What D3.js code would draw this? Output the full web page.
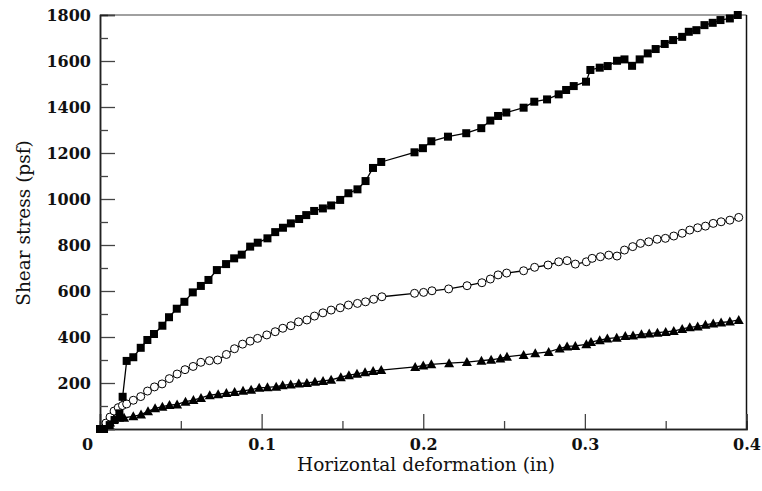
<!DOCTYPE html>
<html>
<head>
<meta charset="utf-8">
<script src="https://cdn.jsdelivr.net/npm/d3@7"></script>
<style>
  html, body { margin: 0; padding: 0; background: #fff; }
  svg { display: block; }
  .tick text { font-family: "DejaVu Serif", serif; font-weight: bold; font-size: 16px; fill: #111; }
  .title { font-family: "DejaVu Serif", serif; font-size: 18.5px; fill: #111; }
</style>
</head>
<body>
<svg id="chart" width="762" height="491"></svg>
<script>
// ---- data ----
const squareX = [0.000, 0.0025, 0.006, 0.009, 0.012, 0.014, 0.0165, 0.0206, 0.0252, 0.0293, 0.0334, 0.0386, 0.0427, 0.0475, 0.0522, 0.0574, 0.0624, 0.0671, 0.0723, 0.078, 0.083, 0.0877, 0.0929, 0.0976, 0.1036, 0.1084, 0.1132, 0.1181, 0.1232, 0.1276, 0.1325, 0.1379, 0.143, 0.1486, 0.1537, 0.1593, 0.1643, 0.1689, 0.174, 0.1946, 0.1998, 0.205, 0.2153, 0.2266, 0.2359, 0.2415, 0.2463, 0.2514, 0.2621, 0.2687, 0.2766, 0.2838, 0.2884, 0.2931, 0.3007, 0.3034, 0.3092, 0.3141, 0.3199, 0.3245, 0.3292, 0.3339, 0.3389, 0.3438, 0.3494, 0.3546, 0.3602, 0.3643, 0.369, 0.374, 0.3791, 0.3839, 0.3897, 0.3946];
const squareY = [0, 0, 17, 39, 68, 140, 296, 312, 353, 387, 413, 449, 486, 523, 553, 594, 622, 648, 691, 717, 742, 758, 793, 810, 829, 856, 875, 894, 913, 930, 948, 959, 972, 996, 1025, 1042, 1078, 1135, 1161, 1203, 1221, 1251, 1271, 1286, 1308, 1341, 1361, 1376, 1397, 1423, 1433, 1455, 1474, 1491, 1510, 1561, 1571, 1578, 1601, 1607, 1579, 1607, 1633, 1652, 1674, 1691, 1705, 1727, 1734, 1756, 1766, 1778, 1785, 1800];

const circleX = [0.0037, 0.0062, 0.0087, 0.0113, 0.0139, 0.0165, 0.0206, 0.0252, 0.0294, 0.0337, 0.0384, 0.0429, 0.0477, 0.0526, 0.0576, 0.0624, 0.0677, 0.0728, 0.0782, 0.0832, 0.0882, 0.0929, 0.0975, 0.1032, 0.1084, 0.1131, 0.1181, 0.1228, 0.128, 0.1327, 0.1379, 0.143, 0.1486, 0.1537, 0.1593, 0.1643, 0.1693, 0.1744, 0.1946, 0.2002, 0.2054, 0.2157, 0.2271, 0.2363, 0.2415, 0.2463, 0.2516, 0.2621, 0.2689, 0.2772, 0.2838, 0.289, 0.2941, 0.3009, 0.3045, 0.3096, 0.3148, 0.3199, 0.3245, 0.3296, 0.3344, 0.3395, 0.3447, 0.3498, 0.355, 0.3602, 0.3649, 0.3698, 0.3746, 0.3794, 0.3843, 0.3897, 0.3952];
const circleY = [26, 52, 78, 93, 102, 109, 125, 141, 165, 183, 196, 219, 239, 258, 272, 290, 297, 300, 324, 349, 369, 382, 394, 409, 423, 438, 449, 466, 474, 491, 505, 517, 527, 539, 546, 553, 564, 575, 590, 594, 601, 609, 623, 636, 652, 670, 678, 688, 703, 713, 727, 732, 717, 727, 742, 749, 756, 752, 778, 793, 807, 814, 825, 829, 839, 851, 865, 875, 882, 894, 901, 908, 920];

const triangleX = [0.0031, 0.0062, 0.0087, 0.0118, 0.0149, 0.0206, 0.0254, 0.0297, 0.0341, 0.0386, 0.043, 0.0477, 0.0529, 0.0578, 0.0625, 0.0679, 0.0731, 0.0782, 0.0833, 0.0885, 0.0935, 0.0985, 0.1036, 0.109, 0.113, 0.118, 0.123, 0.128, 0.133, 0.138, 0.143, 0.149, 0.154, 0.159, 0.164, 0.169, 0.174, 0.195, 0.2, 0.205, 0.216, 0.227, 0.236, 0.242, 0.2477, 0.2518, 0.2621, 0.2693, 0.2776, 0.2844, 0.289, 0.2941, 0.3009, 0.3038, 0.3092, 0.3139, 0.3197, 0.325, 0.3298, 0.335, 0.3398, 0.3449, 0.35, 0.355, 0.3602, 0.3649, 0.3698, 0.3746, 0.3794, 0.3843, 0.3897, 0.3952];
const triangleY = [22, 28, 43, 49, 49, 55, 63, 77, 90, 97, 104, 107, 119, 126, 135, 147, 151, 157, 161, 166, 171, 179, 181, 184, 190, 194, 198, 200, 205, 209, 214, 225, 234, 240, 247, 252, 256, 270, 276, 281, 286, 291, 297, 301, 307, 314, 322, 329, 335, 350, 359, 361, 368, 378, 386, 393, 397, 404, 407, 412, 415, 419, 422, 426, 435, 442, 446, 453, 459, 463, 467, 474];

const xMajorTicks = [0, 0.1, 0.2, 0.3, 0.4];
const xMinorTicks = [0.05, 0.15, 0.25, 0.35];
const yMajorTicks = [0, 200, 400, 600, 800, 1000, 1200, 1400, 1600, 1800];
const yMinorTicks = [100, 300, 500, 700, 900, 1100, 1300, 1500, 1700];
const xTitle = "Horizontal deformation (in)";
const yTitle = "Shear stress (psf)";

// ---- layout ----
const L = 100, R = 746.5, T = 15, B = 429;
const svg = d3.select("#chart");
const x = d3.scaleLinear().domain([0, 0.4]).range([L, R]);
const y = d3.scaleLinear().domain([0, 1800]).range([B, T]);

// frame top & right
svg.append("line").attr("x1", L).attr("x2", R).attr("y1", T).attr("y2", T)
  .attr("stroke", "#808080").attr("stroke-width", 1.5);
svg.append("line").attr("x1", R).attr("x2", R).attr("y1", T).attr("y2", B)
  .attr("stroke", "#111").attr("stroke-width", 1.5);

// x axis
const fmtX = d => d === 0 ? "0" : d3.format(".1f")(d);
const gx = svg.append("g").attr("transform", `translate(0,${B})`)
  .call(d3.axisBottom(x).tickValues(xMajorTicks).tickFormat(fmtX).tickSize(-15).tickPadding(22));
gx.selectAll(".tick text").attr("dy", "-0.05em").attr("dx", d => d === 0 ? -13 : 0);
const gxm = svg.append("g").attr("transform", `translate(0,${B})`)
  .call(d3.axisBottom(x).tickValues(xMinorTicks).tickFormat("").tickSize(-8));

// y axis
const gy = svg.append("g").attr("transform", `translate(${L},0)`)
  .call(d3.axisLeft(y).tickValues(yMajorTicks).tickFormat(d => d === 0 ? "" : d).tickSize(-15).tickPadding(9));
const gym = svg.append("g").attr("transform", `translate(${L},0)`)
  .call(d3.axisLeft(y).tickValues(yMinorTicks).tickFormat("").tickSize(-8));

[gx, gxm, gy, gym].forEach(g => {
  g.select(".domain").attr("stroke", "#222").attr("stroke-width", 1.5);
  g.selectAll(".tick line").attr("stroke", "#444").attr("stroke-width", 1.3);
});

// titles
svg.append("text").attr("class", "title").attr("x", 426).attr("y", 471)
  .attr("text-anchor", "middle").text(xTitle);
svg.append("text").attr("class", "title")
  .attr("transform", `translate(30,223) rotate(-90)`)
  .attr("text-anchor", "middle").text(yTitle);

// series
const line = d3.line().x(d => x(d[0])).y(d => y(d[1]));
function series(xs, ys) { return xs.map((v, i) => [v, ys[i]]); }
const sq = series(squareX, squareY);
const ci = series(circleX, circleY);
const tr = series(triangleX, triangleY);

[tr, ci, sq].forEach(data => {
  svg.append("path").datum(data).attr("d", line)
    .attr("fill", "none").attr("stroke", "#000").attr("stroke-width", 1.3);
});

svg.append("g").selectAll("path").data(tr).join("path")
  .attr("transform", d => `translate(${x(d[0])},${y(d[1])})`)
  .attr("d", "M0,-5 L5,4 L-5,4 Z").attr("fill", "#000");

svg.append("g").selectAll("circle").data(ci).join("circle")
  .attr("cx", d => x(d[0])).attr("cy", d => y(d[1])).attr("r", 4)
  .attr("fill", "#fff").attr("stroke", "#000").attr("stroke-width", 1);

svg.append("g").selectAll("rect").data(sq).join("rect")
  .attr("x", d => x(d[0]) - 4).attr("y", d => y(d[1]) - 4)
  .attr("width", 8).attr("height", 8).attr("fill", "#000");
</script>
</body>
</html>
